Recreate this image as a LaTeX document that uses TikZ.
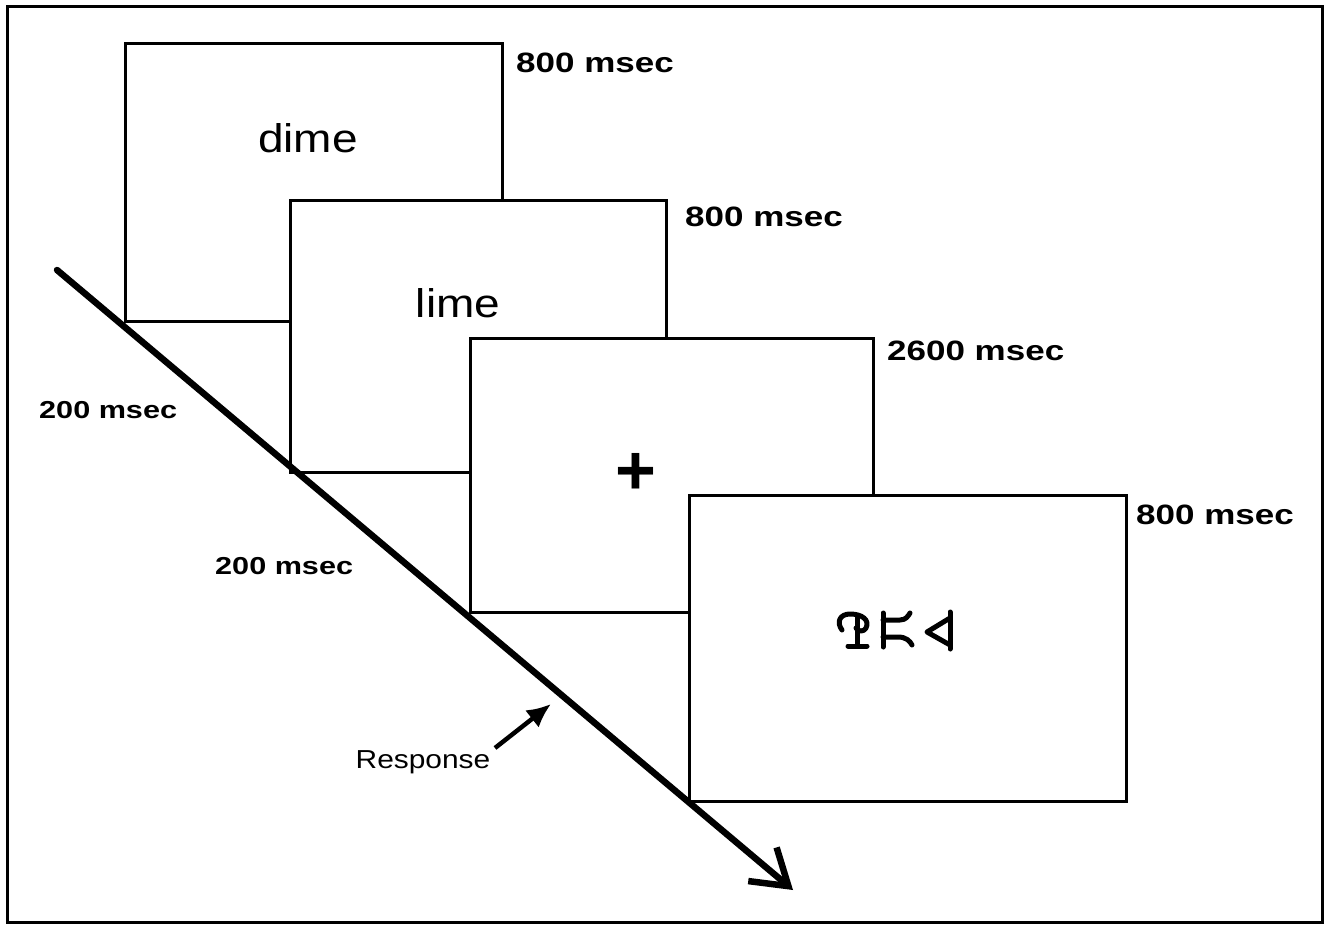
\documentclass[tikz,border=0pt]{standalone}
\usepackage{fontspec}
\setmainfont{Liberation Sans}
\newfontfamily\lblfont[FakeStretch=1.25]{Liberation Sans}
\newfontfamily\wordfont[FakeStretch=1.15]{Liberation Sans}
\newfontfamily\respfont[FakeStretch=1.15]{Liberation Sans}
\usetikzlibrary{arrows.meta}
\tikzset{
  screen/.style={draw=black, fill=white, line width=3pt, inner sep=0pt, anchor=north west},
  timelbl/.style={anchor=west, inner sep=0pt, font=\lblfont\bfseries\fontsize{28}{30}\selectfont},
  shortlbl/.style={anchor=west, inner sep=0pt, font=\lblfont\bfseries\fontsize{24.5}{26}\selectfont},
  word/.style={inner sep=0pt, font=\wordfont\fontsize{40}{44}\selectfont},
  glyph/.style={line width=5pt, line cap=round, line join=round}
}
\begin{document}
\begin{tikzpicture}[x=1pt,y=-1pt]
\useasboundingbox (0,0) rectangle (1331,925);
\draw[line width=3pt] (7,7) rectangle (1322,922);

\node[screen, minimum width=377pt, minimum height=278pt] (s1) at (124,42) {};
\node[word] (w1) at (308,138) {dime};
\node[screen, minimum width=376pt, minimum height=272pt] (s2) at (289,199) {};
\node[word] (w2) at (458,303) {lime};
\node[screen, minimum width=403pt, minimum height=274pt] (s3) at (469,337) {};
\node[inner sep=0pt, font=\bfseries\fontsize{70}{72}\selectfont] (fix) at (636,474) {+};
\node[screen, minimum width=437pt, minimum height=306pt] (s4) at (688,494) {};

% pseudo-letter stimulus
\begin{scope}[glyph]
  % glyph 1
  \draw (842,630) .. controls (836,622) and (840,614) .. (850,614)
        .. controls (862,614) and (870,620) .. (866,628)
        .. controls (864,632) and (858,632) .. (856,628);
  \draw (857,618) -- (857,645);
  \draw (848,646) -- (867,646);
  % glyph 2
  \draw (883,613) -- (883,647);
  \draw (883,620) -- (900,620) .. controls (906,620) and (908,616) .. (910,613);
  \draw (883,637) -- (898,637) .. controls (906,637) and (910,641) .. (912,645);
  % glyph 3
  \draw (950,612) -- (950,649);
  \draw (950,618) -- (927,632) -- (950,645);
\end{scope}
\node[inner sep=0pt, minimum width=120pt, minimum height=38pt] (pseudo) at (895,630) {};

\node[timelbl] (t1) at (516,63) {800 msec};
\node[timelbl] (t2) at (685,217) {800 msec};
\node[timelbl] (t3) at (887,351) {2600 msec};
\node[timelbl] (t4) at (1136,515) {800 msec};
\node[shortlbl] (i1) at (39,410) {200 msec};
\node[shortlbl] (i2) at (215,566) {200 msec};

\coordinate (tstart) at (57,270);
\coordinate (tend) at (793,890);
\draw[line width=6.5pt, line cap=round, -{Straight Barb[length=34pt, width=44pt, line width=6.5pt]}] (tstart) -- (tend);

\node[inner sep=0pt, font=\respfont\fontsize{26}{28}\selectfont] (resp) at (423,762) {Response};
\coordinate (rtip) at (551,704);
\draw[line width=4.5pt, -{Latex[length=24pt, width=22pt]}] (495,748) -- (rtip);
\end{tikzpicture}
\end{document}
